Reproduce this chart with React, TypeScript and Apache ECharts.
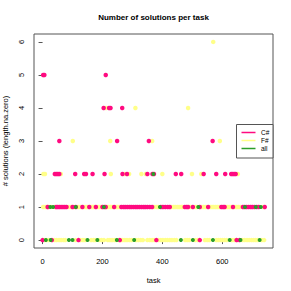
import React, { useEffect, useRef } from "react";
import * as echarts from "echarts";

// x positions (task index) of points per y level (number of solutions)
const fsharpY0 = [5, 12, 20, 40, 47, 55, 62, 70, 76, 110, 127, 135, 142, 162, 170, 176, 190, 197, 205, 218, 225, 232, 240, 247, 255, 262, 268, 275, 282, 290, 297, 312, 320, 328, 335, 350, 358, 366, 373, 388, 395, 402, 410, 417, 425, 432, 440, 447, 476, 483, 490, 510, 518, 542, 550, 557, 580, 587, 594, 601, 608, 615, 632, 640, 648, 668, 675, 683, 690, 698, 705, 712, 718, 732, 740];
const fsharpY1 = [2, 9, 15, 22, 28, 40, 88, 95, 104, 120, 126, 138, 145, 150, 162, 168, 172, 185, 190, 195, 215, 220, 226, 232, 245, 250, 256, 372, 380, 386, 430, 437, 443, 450, 456, 463, 468, 490, 495, 510, 516, 531, 538, 545, 560, 566, 572, 578, 584, 590, 612, 618, 624, 630, 642, 648, 654, 660, 738];
const fsharpY2 = [3, 8, 61, 228, 275, 289, 330, 345, 400, 499, 530, 652];
const fsharpY3 = [101, 226, 366, 592];
const fsharpY4 = [212, 310, 486];
const fsharpY6 = [570];

const csharpY0 = [0, 31, 120, 258, 380, 525, 648, 658];
const csharpY1 = [17, 45, 50, 56, 62, 68, 74, 80, 100, 111, 133, 156, 178, 200, 206, 211, 239, 263, 270, 276, 283, 290, 296, 303, 310, 316, 323, 330, 337, 343, 350, 358, 366, 395, 402, 410, 418, 425, 475, 481, 486, 502, 525, 553, 597, 603, 608, 636, 669, 675, 681, 688, 695, 701, 708, 715, 722, 742];
const csharpY2 = [41, 46, 51, 56, 109, 139, 145, 167, 207, 267, 282, 350, 367, 372, 445, 463, 538, 580, 610, 630, 635, 640, 645];
const csharpY3 = [56, 249, 355, 568];
const csharpY4 = [204, 222, 227, 266];
const csharpY5 = [2, 6, 211];

const allY0 = [11, 27, 88, 100, 150, 183, 248, 306, 462, 502, 569, 625, 661, 725];
const allY1 = [26, 35, 111, 205, 392, 520, 676, 712, 729];
const allY2 = [370];

const xTicks = [0, 200, 400, 600];
const yTicks = [0, 1, 2, 3, 4, 5, 6];
const seriesNames = ["C#", "F#", "all"];

const PINK = "#FF0A80";
const YELLOW = "#FFFF88";
const GREEN = "#2A9E2A";
const FONT = "Liberation Sans";

function toPoints(levels: number[][], ys: number[]) {
  const out: number[][] = [];
  levels.forEach((xs, i) => xs.forEach((x) => out.push([x, ys[i]])));
  return out;
}

export default function App() {
  const ref = useRef<HTMLDivElement>(null);
  useEffect(() => {
    if (!ref.current) return;
    const chart = echarts.init(ref.current, undefined, { renderer: "svg" });
    const fData = toPoints([fsharpY0, fsharpY1, fsharpY2, fsharpY3, fsharpY4, fsharpY6], [0, 1, 2, 3, 4, 6]);
    const cData = toPoints([csharpY0, csharpY1, csharpY2, csharpY3, csharpY4, csharpY5], [0, 1, 2, 3, 4, 5]);
    const aData = toPoints([allY0, allY1, allY2], [0, 1, 2]);
    const legendRows = [
      { name: seriesNames[0], color: PINK },
      { name: seriesNames[1], color: YELLOW },
      { name: seriesNames[2], color: GREEN },
    ];
    chart.setOption({
      animation: false,
      backgroundColor: "#ffffff",
      grid: {
        left: 34, right: 18, top: 34, bottom: 43,
        containLabel: false, outerBoundsMode: "none",
        show: true, borderColor: "#555", borderWidth: 1,
      },
      xAxis: {
        type: "value",
        min: -28.6,
        max: 769.6,
        name: "task",
        nameLocation: "middle",
        nameGap: 28,
        nameTextStyle: { fontFamily: FONT, fontSize: 7.5, color: "#000" },
        axisLine: { show: false },
        splitLine: { show: false },
        axisTick: { show: true, inside: false, length: 4, customValues: xTicks, lineStyle: { color: "#555" } },
        axisLabel: { customValues: xTicks, margin: 9, fontFamily: FONT, fontSize: 7.5, color: "#000" },
      },
      yAxis: {
        type: "value",
        min: -0.24,
        max: 6.24,
        name: "# solutions (length.na.zero)",
        nameLocation: "middle",
        nameGap: 22,
        nameTextStyle: { fontFamily: FONT, fontSize: 7.5, color: "#000" },
        axisLine: { show: false },
        splitLine: { show: false },
        axisTick: { show: true, inside: false, length: 4, customValues: yTicks, lineStyle: { color: "#555" } },
        axisLabel: { customValues: yTicks, rotate: 90, margin: 9, fontFamily: FONT, fontSize: 7.5, color: "#000" },
      },
      legend: { show: false },
      series: [
        { name: "F#", type: "scatter", data: fData, symbol: "circle", symbolSize: 4.5, itemStyle: { color: YELLOW, opacity: 1 } },
        { name: "C#", type: "scatter", data: cData, symbol: "circle", symbolSize: 4.5, itemStyle: { color: PINK, opacity: 1 } },
        { name: "all", type: "scatter", data: aData, symbol: "circle", symbolSize: 4, itemStyle: { color: GREEN, opacity: 1 } },
      ],
      graphic: [
        {
          type: "text",
          x: 153.5,
          y: 17,
          style: { text: "Number of solutions per task", textAlign: "center", textVerticalAlign: "middle", font: `bold 8px '${FONT}'`, fill: "#000" },
        },
        {
          type: "rect",
          shape: { x: 236.5, y: 124.5, width: 36.5, height: 33.5 },
          style: { fill: "#fff", stroke: "#555", lineWidth: 1 },
          z: 10,
        },
        ...legendRows.flatMap((r, i) => [
          {
            type: "line",
            shape: { x1: 241.5, y1: 132.5 + i * 8, x2: 255.5, y2: 132.5 + i * 8 },
            style: { stroke: r.color, lineWidth: 1.5 },
            z: 11,
          },
          {
            type: "text",
            x: 261,
            y: 132.5 + i * 8,
            style: { text: r.name, textVerticalAlign: "middle", font: `6.5px '${FONT}'`, fill: "#000" },
            z: 11,
          },
        ]),
      ],
    });
    return () => chart.dispose();
  }, []);
  return <div ref={ref} style={{ width: 291, height: 291, position: "absolute", left: 0, top: 0 }} />;
}
